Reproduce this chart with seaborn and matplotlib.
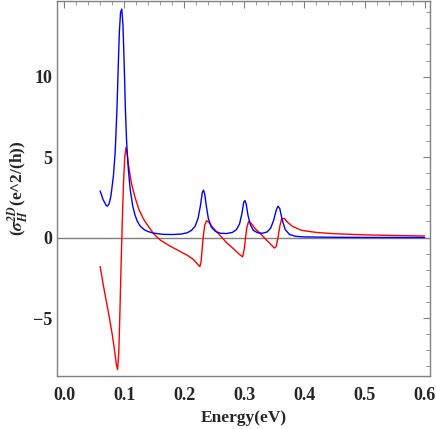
import matplotlib
matplotlib.use("Agg")
import matplotlib.pyplot as plt
import seaborn as sns
import pandas as pd
from matplotlib.ticker import MultipleLocator

sns.set_theme(style="white")
plt.rcParams['font.family'] = ['Liberation Serif', 'DejaVu Serif']
plt.rcParams['mathtext.fontset'] = 'stix'

# Blue curve (energy, value)
blue_x = [0.060, 0.065, 0.070, 0.072, 0.075, 0.078, 0.082, 0.085, 0.088, 0.090, 0.092, 0.094,
          0.096, 0.098, 0.100, 0.102, 0.104, 0.106, 0.108, 0.110, 0.114, 0.118, 0.122, 0.127,
          0.133, 0.140, 0.150, 0.165, 0.180, 0.195, 0.205, 0.212, 0.218, 0.223, 0.227, 0.230,
          0.232, 0.234, 0.237, 0.240, 0.245, 0.252, 0.260, 0.270, 0.280, 0.287, 0.292, 0.296,
          0.299, 0.301, 0.303, 0.306, 0.310, 0.315, 0.322, 0.330, 0.338, 0.344, 0.349, 0.353,
          0.356, 0.359, 0.363, 0.368, 0.375, 0.385, 0.400, 0.450, 0.500, 0.600]
blue_y = [2.9, 2.35, 2.0, 1.95, 2.1, 2.6, 3.8, 5.3, 8.0, 10.5, 12.8, 14.0,
          14.2, 13.2, 10.8, 8.0, 6.0, 4.7, 3.8, 3.0, 2.0, 1.4, 1.0, 0.7,
          0.5, 0.37, 0.27, 0.2, 0.19, 0.22, 0.3, 0.45, 0.7, 1.2, 2.0, 2.8,
          2.95, 2.7, 1.9, 1.2, 0.65, 0.38, 0.27, 0.25, 0.32, 0.5, 0.85, 1.5,
          2.2, 2.3, 2.1, 1.4, 0.8, 0.45, 0.3, 0.27, 0.35, 0.6, 1.1, 1.7,
          1.95, 1.8, 1.1, 0.5, 0.2, 0.08, 0.04, 0.02, 0.01, 0.005]

# Red curve (energy, value)
red_x = [0.060, 0.065, 0.070, 0.075, 0.080, 0.084, 0.087, 0.089, 0.091, 0.093, 0.095, 0.097,
         0.099, 0.101, 0.103, 0.105, 0.108, 0.112, 0.118, 0.125, 0.133, 0.142, 0.150, 0.160,
         0.175, 0.190, 0.205, 0.215, 0.222, 0.226, 0.228, 0.230, 0.232, 0.234, 0.237, 0.241,
         0.248, 0.258, 0.270, 0.282, 0.292, 0.297, 0.300, 0.302, 0.304, 0.307, 0.311, 0.318,
         0.328, 0.338, 0.346, 0.350, 0.353, 0.356, 0.359, 0.362, 0.366, 0.372, 0.380, 0.395,
         0.420, 0.450, 0.500, 0.550, 0.600]
red_y = [-1.8, -2.9, -3.9, -4.9, -6.0, -7.0, -7.9, -8.2, -7.2, -4.5, -1.5, 1.2,
         3.5, 5.0, 5.6, 5.2, 4.3, 3.4, 2.5, 1.7, 1.1, 0.6, 0.2, -0.15,
         -0.5, -0.8, -1.1, -1.35, -1.65, -1.8, -1.5, -0.6, 0.2, 0.75, 1.05, 0.95,
         0.6, 0.2, -0.3, -0.7, -1.05, -1.2, -0.7, 0.0, 0.6, 1.0, 0.9, 0.55,
         0.2, -0.2, -0.5, -0.65, -0.55, 0.0, 0.7, 1.15, 1.2, 0.95, 0.7, 0.45,
         0.32, 0.24, 0.17, 0.13, 0.1]

x_ticks = [0.0, 0.1, 0.2, 0.3, 0.4, 0.5, 0.6]
y_ticks = [-5, 0, 5, 10]

fig = plt.figure(figsize=(4.36, 4.29), dpi=100)
ax = fig.add_axes([57/436, 53/429, 373/436, 375/429])

ax.axhline(0, color='#808080', lw=1.0, zorder=1)
sns.lineplot(x=blue_x, y=blue_y, ax=ax, color='blue', lw=1.0, sort=False, zorder=3)
sns.lineplot(x=red_x, y=red_y, ax=ax, color='red', lw=1.0, sort=False, zorder=2)

ax.set_xlim(-0.0118, 0.609)
ax.set_ylim(-8.6, 14.7)
ax.set_xticks(x_ticks)
ax.set_xticklabels([f"{t:.1f}" for t in x_ticks])
ax.set_yticks(y_ticks)
ax.set_yticklabels(["\u22125", "0", "5", "10"])
ax.xaxis.set_minor_locator(MultipleLocator(0.02))
ax.yaxis.set_minor_locator(MultipleLocator(1))
ax.tick_params(which='both', direction='in', top=True, right=True, color='#808080')
ax.tick_params(which='major', length=5, width=0.8, labelsize=13)
ax.tick_params(which='minor', length=3, width=0.6)
ax.tick_params(axis='x', pad=8)
for lab in ax.get_xticklabels() + ax.get_yticklabels():
    lab.set_fontweight('bold')
for s in ax.spines.values():
    s.set_color('#808080')
    s.set_linewidth(1.0)

ax.set_xlabel("Energy(eV)", fontsize=12.5, fontweight='bold', labelpad=4)
ax.set_ylabel(r"($\mathbfit{\sigma}_{\mathbfit{H}}^{\mathbfit{2D}}$(e^2/(h))",
              fontsize=12.5, fontweight='bold', labelpad=2)

fig.savefig("out.png", dpi=100)
